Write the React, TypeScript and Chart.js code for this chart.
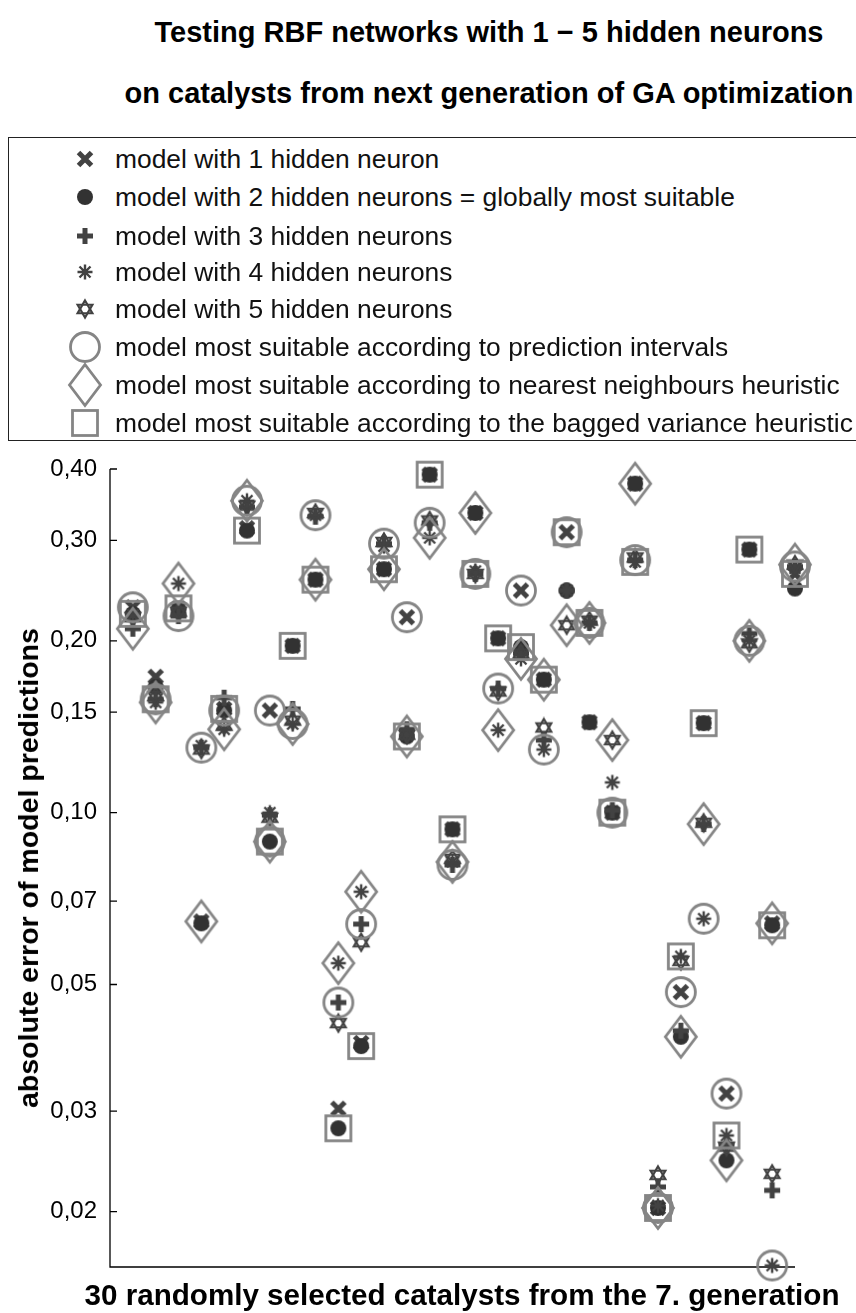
import React, { useEffect, useRef } from "react";
import { Chart, registerables } from "chart.js";
Chart.register(...registerables);

// ---------- data ----------
const catalysts = [1, 2, 3, 4, 5, 6, 7, 8, 9, 10, 11, 12, 13, 14, 15, 16, 17, 18, 19, 20, 21, 22, 23, 24, 25, 26, 27, 28, 29, 30];

const model1 = [0.229, 0.173, 0.228, 0.0645, 0.152, 0.315, 0.151, 0.196, 0.256, 0.0303, 0.0395, 0.267, 0.22, 0.391, 0.0935, 0.335, 0.202, 0.245, 0.171, 0.31, 0.144, 0.1, 0.377, 0.0203, 0.0485, 0.1435, 0.0322, 0.289, 0.064, 0.262];
const model2 = [0.223, 0.166, 0.227, 0.064, 0.151, 0.312, 0.089, 0.196, 0.256, 0.028, 0.039, 0.267, 0.136, 0.391, 0.0935, 0.335, 0.202, 0.195, 0.171, 0.245, 0.144, 0.1, 0.377, 0.0203, 0.0405, 0.1435, 0.0246, 0.289, 0.0635, 0.247];
const model3 = [0.21, 0.158, 0.221, 0.13, 0.159, 0.343, 0.099, 0.152, 0.33, 0.0465, 0.0638, 0.296, 0.14, 0.322, 0.081, 0.262, 0.165, 0.19, 0.134, 0.245, 0.215, 0.101, 0.277, 0.0221, 0.0415, 0.0955, 0.0262, 0.206, 0.0218, 0.27];
const model4 = [0.222, 0.156, 0.252, 0.131, 0.14, 0.352, 0.1, 0.143, 0.332, 0.0545, 0.0727, 0.293, 0.137, 0.303, 0.082, 0.265, 0.1395, 0.186, 0.129, 0.245, 0.215, 0.113, 0.275, 0.0205, 0.056, 0.0652, 0.0272, 0.2, 0.0161, 0.268];
const model5 = [0.22, 0.16, 0.225, 0.129, 0.142, 0.345, 0.098, 0.145, 0.335, 0.0428, 0.0593, 0.298, 0.137, 0.325, 0.083, 0.262, 0.163, 0.19, 0.141, 0.213, 0.217, 0.134, 0.28, 0.0232, 0.055, 0.096, 0.026, 0.198, 0.0233, 0.272];

// model (1-5) chosen by each heuristic, per catalyst
const circleChoice = [[1], [3], [3], [3], [2], [4], [1, 2], [4], [4], [3], [3], [3], [1], [3], [3], [3], [3], [1], [4], [1], [4], [1], [3], [1], [1], [4], [1], [4], [4], [3]];
const diamondChoice = [[3], [4], [4], [1], [4], [4], [2], [4], [1], [4], [4], [1], [2], [4], [4], [2], [4], [4], [1], [5], [3], [5], [2], [2], [2], [3], [2], [4], [1], [5]];
const squareChoice = [[2], [3], [1], [], [1], [2], [2], [2], [2], [2], [2], [2], [2], [2], [2], [3], [2], [2], [2], [1], [3], [2], [4], [2], [4], [2], [4], [2], [2], [1]];

const yTicks = [0.02, 0.03, 0.05, 0.07, 0.1, 0.15, 0.2, 0.3, 0.4];

const titleLines = ["Testing RBF networks with 1 \u2212 5 hidden neurons", "on catalysts from next generation of GA optimization"];
const legendLabels = [
  "model with 1 hidden neuron",
  "model with 2 hidden neurons = globally most suitable",
  "model with 3 hidden neurons",
  "model with 4 hidden neurons",
  "model with 5 hidden neurons",
  "model most suitable according to prediction intervals",
  "model most suitable according to nearest neighbours heuristic",
  "model most suitable according to the bagged variance heuristic",
];
const xTitle = "30 randomly selected catalysts from the 7. generation";
const yTitle = "absolute error of model predictions";

// ---------- marker images ----------
const DARK = "#424242";
const DOT = "#323232";
const GREY = "#858585";

function mk(w: number, h: number, draw: (c: CanvasRenderingContext2D) => void) {
  const c = document.createElement("canvas");
  c.width = w;
  c.height = h;
  const ctx = c.getContext("2d")!;
  ctx.translate(w / 2, h / 2);
  draw(ctx);
  return c;
}

function buildMarkers() {
  const cross = mk(20, 20, (c) => {
    c.strokeStyle = DARK;
    c.lineWidth = 5;
    c.beginPath();
    c.moveTo(-6.5, -6.5); c.lineTo(6.5, 6.5);
    c.moveTo(6.5, -6.5); c.lineTo(-6.5, 6.5);
    c.stroke();
  });
  const dot = mk(20, 20, (c) => {
    c.fillStyle = DOT;
    c.beginPath();
    c.arc(0, 0, 8, 0, Math.PI * 2);
    c.fill();
  });
  const plus = mk(20, 20, (c) => {
    c.strokeStyle = DARK;
    c.lineWidth = 5;
    c.beginPath();
    c.moveTo(-8, 0); c.lineTo(8, 0);
    c.moveTo(0, -8); c.lineTo(0, 8);
    c.stroke();
  });
  const aster = mk(20, 20, (c) => {
    c.strokeStyle = DARK;
    c.lineWidth = 2.4;
    c.beginPath();
    c.moveTo(-7.5, 0); c.lineTo(7.5, 0);
    c.moveTo(0, -7.5); c.lineTo(0, 7.5);
    c.moveTo(-5.5, -5.5); c.lineTo(5.5, 5.5);
    c.moveTo(5.5, -5.5); c.lineTo(-5.5, 5.5);
    c.stroke();
  });
  const hexa = mk(22, 22, (c) => {
    c.strokeStyle = DARK;
    c.lineWidth = 2.2;
    const r = 8.5;
    for (const off of [-Math.PI / 2, Math.PI / 2]) {
      c.beginPath();
      for (let k = 0; k < 3; k++) {
        const a = off + (k * 2 * Math.PI) / 3;
        const px = r * Math.cos(a), py = r * Math.sin(a);
        if (k === 0) c.moveTo(px, py); else c.lineTo(px, py);
      }
      c.closePath();
      c.stroke();
    }
  });
  const circle = mk(36, 36, (c) => {
    c.strokeStyle = GREY;
    c.lineWidth = 2.8;
    c.beginPath();
    c.arc(0, 0, 14.5, 0, Math.PI * 2);
    c.stroke();
  });
  const diamond = mk(38, 48, (c) => {
    c.strokeStyle = GREY;
    c.lineWidth = 2.8;
    c.beginPath();
    c.moveTo(0, -20.5); c.lineTo(15.5, 0); c.lineTo(0, 20.5); c.lineTo(-15.5, 0);
    c.closePath();
    c.stroke();
  });
  const square = mk(32, 32, (c) => {
    c.strokeStyle = GREY;
    c.lineWidth = 2.8;
    c.strokeRect(-12.5, -12.5, 25, 25);
  });
  return [cross, dot, plus, aster, hexa, circle, diamond, square];
}

const models = [model1, model2, model3, model4, model5];

function pts(vals: number[]) {
  return catalysts.map((c, i) => ({ x: c, y: vals[i] }));
}
function chosenPts(choice: number[][]) {
  return catalysts.flatMap((c, i) => choice[i].map((m) => ({ x: c, y: models[m - 1][i] })));
}

const FONT = '"Liberation Sans", Arial, Helvetica, sans-serif';

const axesPlugin = {
  id: "matlabAxes",
  beforeDatasetsDraw(chart: any) {
    const { ctx, chartArea, scales } = chart;
    const { left, right, top, bottom } = chartArea;
    ctx.save();
    ctx.strokeStyle = "#000";
    ctx.lineWidth = 1.3;
    ctx.beginPath();
    ctx.moveTo(left, top);
    ctx.lineTo(left, bottom);
    ctx.lineTo(right, bottom);
    for (const v of yTicks) {
      const py = scales.y.getPixelForValue(v);
      ctx.moveTo(left, py);
      ctx.lineTo(left + 7, py);
    }
    ctx.stroke();
    ctx.restore();
  },
};

export default function App() {
  const chartRef = useRef<HTMLCanvasElement>(null);
  const legendRefs = useRef<(HTMLCanvasElement | null)[]>([]);

  useEffect(() => {
    document.body.style.margin = "0";
    const markers = buildMarkers();
    legendRefs.current.forEach((cv, i) => {
      if (!cv) return;
      const ctx = cv.getContext("2d")!;
      ctx.clearRect(0, 0, cv.width, cv.height);
      const m = markers[i];
      ctx.drawImage(m, Math.round((cv.width - m.width) / 2), Math.round((cv.height - m.height) / 2));
    });

    const base = { showLine: false, clip: false as any, pointRadius: 8, pointHoverRadius: 8 };
    const chart = new Chart(chartRef.current!, {
      type: "scatter",
      data: {
        datasets: [
          { ...base, label: legendLabels[7], data: chosenPts(squareChoice), pointStyle: markers[7] as any },
          { ...base, label: legendLabels[6], data: chosenPts(diamondChoice), pointStyle: markers[6] as any },
          { ...base, label: legendLabels[5], data: chosenPts(circleChoice), pointStyle: markers[5] as any },
          { ...base, label: legendLabels[4], data: pts(model5), pointStyle: markers[4] as any },
          { ...base, label: legendLabels[3], data: pts(model4), pointStyle: markers[3] as any },
          { ...base, label: legendLabels[2], data: pts(model3), pointStyle: markers[2] as any },
          { ...base, label: legendLabels[1], data: pts(model2), pointStyle: markers[1] as any },
          { ...base, label: legendLabels[0], data: pts(model1), pointStyle: markers[0] as any },
        ],
      },
      options: {
        responsive: false,
        maintainAspectRatio: false,
        animation: false,
        events: [],
        layout: { padding: { left: 0, right: 61, top: 28, bottom: 46 } },
        plugins: { legend: { display: false }, tooltip: { enabled: false }, title: { display: false } },
        scales: {
          x: { type: "linear", min: 0, max: 30, display: false },
          y: {
            type: "logarithmic",
            min: 0.016,
            max: 0.4,
            grid: { display: false, drawTicks: false },
            border: { display: false },
            afterBuildTicks: (s: any) => {
              s.ticks = yTicks.map((v) => ({ value: v }));
            },
            afterFit: (s: any) => {
              s.width = 110;
            },
            ticks: {
              autoSkip: false,
              padding: 13,
              color: "#000",
              font: { family: FONT, size: 24 },
              callback: (v: any) => Number(v).toFixed(2).replace(".", ","),
            },
          },
        },
      },
      plugins: [axesPlugin],
    });
    return () => chart.destroy();
  }, []);

  const rowY = [159, 197, 236, 272, 309, 347, 385, 423];

  return (
    <div style={{ position: "relative", width: 856, height: 1313, overflow: "hidden", background: "#fff", fontFamily: FONT, color: "#000" }}>
      {titleLines.map((t, i) => (
        <div key={i} style={{ position: "absolute", left: 489, top: (i === 0 ? 32 : 93) - 15, transform: "translateX(-50%)", whiteSpace: "nowrap", fontSize: 29, lineHeight: "30px", fontWeight: "bold" }}>{t}</div>
      ))}
      <div style={{ position: "absolute", left: 8, top: 137, width: 920, height: 302, border: "1.3px solid #222" }} />
      {legendLabels.map((t, i) => (
        <React.Fragment key={i}>
          <canvas ref={(el) => { legendRefs.current[i] = el; }} width={40} height={48} style={{ position: "absolute", left: 85 - 20, top: rowY[i] - 24 }} />
          <div style={{ position: "absolute", left: 115, top: rowY[i] - 14, fontSize: 26.4, lineHeight: "28px", whiteSpace: "nowrap", color: "#111" }}>{t}</div>
        </React.Fragment>
      ))}
      <canvas ref={chartRef} width={856} height={872} style={{ position: "absolute", left: 0, top: 441, width: 856, height: 872 }} />
      <div style={{ position: "absolute", left: 28, top: 868, transform: "translate(-50%, -50%) rotate(-90deg)", whiteSpace: "nowrap", fontSize: 28.5, lineHeight: "30px", fontWeight: "bold" }}>{yTitle}</div>
      <div style={{ position: "absolute", left: 462, top: 1295 - 15, transform: "translateX(-50%)", whiteSpace: "nowrap", fontSize: 29.6, lineHeight: "30px", fontWeight: "bold" }}>{xTitle}</div>
    </div>
  );
}
